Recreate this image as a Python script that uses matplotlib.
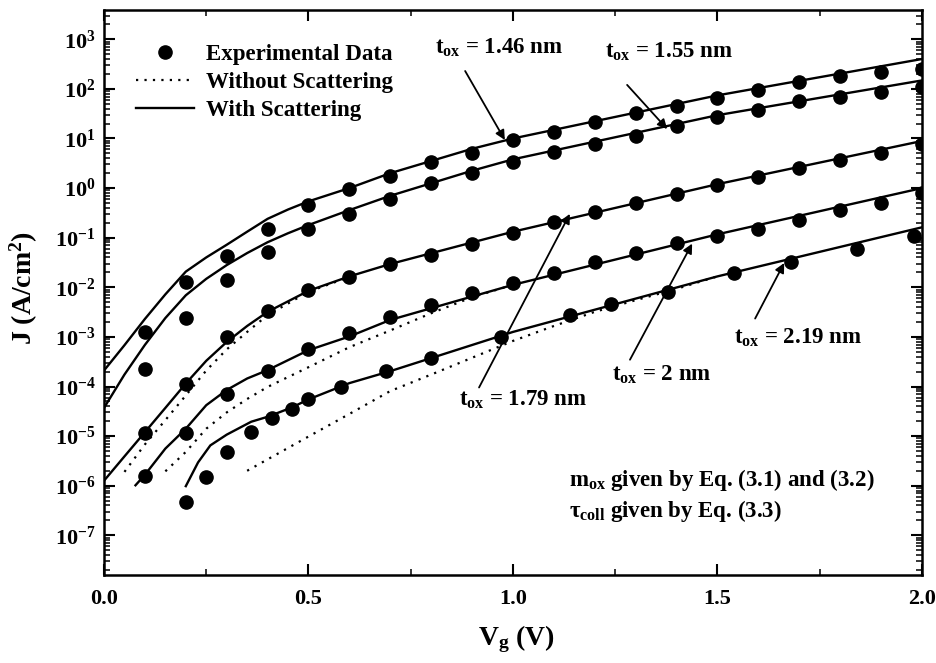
import numpy as np
import matplotlib
matplotlib.use('Agg')
import matplotlib.pyplot as plt
from matplotlib.ticker import LogLocator, MultipleLocator, FuncFormatter, NullFormatter, FormatStrFormatter
from matplotlib.lines import Line2D

plt.rcParams['font.family'] = ['Liberation Serif', 'DejaVu Serif']
plt.rcParams['font.weight'] = 'bold'
plt.rcParams['axes.labelweight'] = 'bold'
plt.rcParams['mathtext.fontset'] = 'custom'
plt.rcParams['mathtext.rm'] = 'Liberation Serif:bold'
plt.rcParams['mathtext.it'] = 'Liberation Serif:bold'
plt.rcParams['mathtext.bf'] = 'Liberation Serif:bold'

# experimental gate current density (A/cm^2) vs gate voltage (V)
vg_pts = [0.1, 0.2, 0.3, 0.4, 0.5, 0.6, 0.7, 0.8, 0.9, 1.0,
          1.1, 1.2, 1.3, 1.4, 1.5, 1.6, 1.7, 1.8, 1.9, 2.0]
j_146 = [1.26e-3, 1.26e-2, 4.2e-2, 0.153, 0.45, 0.955, 1.78, 3.3, 5.2, 9.3,
         13.5, 21, 32, 45, 64, 95, 135, 186, 219, 251]
j_155 = [2.3e-4, 2.4e-3, 1.38e-2, 5.2e-2, 0.151, 0.30, 0.60, 1.26, 1.97, 3.3,
         5.4, 7.7, 11.2, 17.6, 27, 38, 56, 70, 85, 107]
j_179 = [1.16e-5, 1.1e-4, 1.0e-3, 3.3e-3, 8.7e-3, 1.6e-2, 2.9e-2, 4.5e-2, 7.6e-2, 0.123,
         0.21, 0.33, 0.50, 0.75, 1.17, 1.66, 2.5, 3.7, 5.0, 7.8]
j_200 = [1.55e-6, 1.16e-5, 7.2e-5, 2.1e-4, 5.8e-4, 1.2e-3, 2.5e-3, 4.4e-3, 7.5e-3, 1.2e-2,
         1.9e-2, 3.2e-2, 5.0e-2, 7.8e-2, 0.107, 0.151, 0.23, 0.36, 0.51, 0.81]
vg_219 = [0.2, 0.25, 0.3, 0.36, 0.41, 0.46, 0.5, 0.58, 0.69, 0.8,
          0.97, 1.14, 1.24, 1.38, 1.54, 1.68, 1.84, 1.98]
j_219 = [4.6e-7, 1.5e-6, 4.8e-6, 1.2e-5, 2.3e-5, 3.6e-5, 5.6e-5, 1.0e-4, 2.1e-4, 3.8e-4,
         1.0e-3, 2.7e-3, 4.6e-3, 7.9e-3, 1.9e-2, 3.2e-2, 6.0e-2, 0.108]

# simulation with scattering
vs_146 = [0, 0.05, 0.1, 0.15, 0.2, 0.25, 0.3, 0.35, 0.4, 0.45, 0.5, 0.6, 0.7, 0.9, 1.0, 1.5, 2.0]
js_146 = [2.1e-4, 6.8e-4, 2.3e-3, 7.2e-3, 2.07e-2, 4.0e-2, 7.2e-2, 0.132, 0.24, 0.37, 0.54,
          1.0, 2.0, 6.2, 10.0, 74, 400]
vs_155 = [0, 0.05, 0.1, 0.15, 0.2, 0.25, 0.3, 0.35, 0.4, 0.45, 0.5, 0.6, 0.7, 0.9, 1.0, 1.5, 2.0]
js_155 = [3.7e-5, 1.74e-4, 6.9e-4, 2.4e-3, 6.9e-3, 1.48e-2, 2.8e-2, 4.9e-2, 8.1e-2, 0.123, 0.18,
          0.36, 0.70, 2.24, 3.8, 29.5, 148]
vs_179 = [0, 0.05, 0.1, 0.15, 0.2, 0.25, 0.3, 0.35, 0.4, 0.5, 0.6, 0.7, 1.0, 1.5, 2.0]
js_179 = [1.26e-6, 3.9e-6, 1.2e-5, 3.7e-5, 1.15e-4, 3.3e-4, 7.9e-4, 1.66e-3, 3.2e-3, 8.5e-3,
          1.66e-2, 2.95e-2, 0.132, 1.2, 8.9]
vs_200 = [0.077, 0.1, 0.15, 0.2, 0.25, 0.3, 0.35, 0.4, 0.5, 0.6, 0.7, 1.0, 1.5, 2.0]
js_200 = [1.02e-6, 1.66e-6, 5.6e-6, 1.41e-5, 4.2e-5, 8.5e-5, 1.45e-4, 2.14e-4, 5.4e-4, 1.02e-3,
          2.2e-3, 1.12e-2, 0.117, 1.0]
vs_219 = [0.2, 0.23, 0.26, 0.3, 0.36, 0.4, 0.46, 0.5, 0.6, 0.7, 1.0, 1.5, 2.0]
js_219 = [9.8e-7, 2.95e-6, 6.5e-6, 1.07e-5, 1.95e-5, 2.45e-5, 3.8e-5, 5.5e-5, 1.17e-4, 2.04e-4,
          1.26e-3, 1.66e-2, 0.162]

# simulation without scattering
vn_179 = [0.05, 0.1, 0.15, 0.2, 0.25, 0.3, 0.35, 0.4, 0.5, 0.6]
jn_179 = [1.9e-6, 6.8e-6, 2.1e-5, 6.6e-5, 2.1e-4, 5.6e-4, 1.26e-3, 2.75e-3, 8.1e-3, 1.62e-2]
vn_200 = [0.15, 0.2, 0.25, 0.3, 0.35, 0.4, 0.5, 0.6, 0.7, 0.8, 0.9, 1.0]
jn_200 = [1.95e-6, 4.8e-6, 1.41e-5, 3.0e-5, 5.6e-5, 9.8e-5, 2.45e-4, 6.2e-4, 1.35e-3, 3.0e-3, 6.3e-3, 1.12e-2]
vn_219 = [0.35, 0.4, 0.5, 0.6, 0.7, 0.8, 0.9, 1.0, 1.1, 1.2, 1.3, 1.4, 1.5]
jn_219 = [2.0e-6, 3.4e-6, 9.8e-6, 2.8e-5, 8.1e-5, 1.74e-4, 3.8e-4, 8.3e-4, 1.66e-3, 3.2e-3, 5.5e-3, 9.3e-3, 1.66e-2]

dots = (0, (1, 2.8))

fig = plt.figure(figsize=(9.37, 6.63), dpi=100)
ax = fig.add_axes([104/937, 88/663, 818/937, 565/663])

for v, j in [(vn_179, jn_179), (vn_200, jn_200), (vn_219, jn_219)]:
    ax.semilogy(v, j, ls=dots, lw=1.6, color='k')
for v, j in [(vs_146, js_146), (vs_155, js_155), (vs_179, js_179),
             (vs_200, js_200), (vs_219, js_219)]:
    ax.semilogy(v, j, '-', lw=1.7, color='k')
for v, j in [(vg_pts, j_146), (vg_pts, j_155), (vg_pts, j_179),
             (vg_pts, j_200), (vg_219, j_219)]:
    ax.semilogy(v, j, 'o', ms=9.5, color='k', mec='k')

ax.set_xlim(0, 2.0)
ax.set_ylim(10**-7.80, 10**3.59)

ax.xaxis.set_major_locator(MultipleLocator(0.5))
ax.xaxis.set_minor_locator(MultipleLocator(0.25))
ax.xaxis.set_major_formatter(FormatStrFormatter('%.1f'))
ax.yaxis.set_major_locator(LogLocator(base=10, numticks=20))
ax.yaxis.set_minor_locator(LogLocator(base=10, subs=np.arange(2, 10), numticks=20))
ax.yaxis.set_minor_formatter(NullFormatter())
ax.yaxis.set_major_formatter(FuncFormatter(lambda y, pos: r'$10^{%d}$' % round(np.log10(y))))

ax.tick_params(which='both', direction='in', top=True, right=True, labelsize=16)
ax.tick_params(which='major', length=8, width=1.5)
ax.tick_params(which='minor', length=4, width=1.1)
ax.tick_params(axis='x', pad=10)
ax.tick_params(axis='y', pad=6)
for s in ax.spines.values():
    s.set_linewidth(1.8)

ax.set_xlabel(r'V$_{\rm g}$ (V)', fontsize=20)
ax.set_ylabel(r'J (A/cm$^{2}$)', fontsize=20)
ax.xaxis.set_label_coords(0.504, -0.085)
ax.yaxis.set_label_coords(-0.078, 0.508)

handles = [Line2D([], [], marker='o', ls='none', ms=9.5, color='k'),
           Line2D([], [], ls=dots, lw=1.6, color='k'),
           Line2D([], [], ls='-', lw=1.7, color='k')]
labels = ['Experimental Data', 'Without Scattering', 'With Scattering']
ax.legend(handles, labels, loc='upper left', bbox_to_anchor=(0.039, 0.94), frameon=False,
          fontsize=16.5, handlelength=2.55, handletextpad=0.5, labelspacing=0.31,
          borderaxespad=0, borderpad=0)

# thickness labels with arrows pointing at the curves
arrow = dict(arrowstyle='-|>', lw=1.3, color='k', mutation_scale=14, shrinkA=0, shrinkB=0)
notes = [
    (r't$_{\rm ox}$ = 1.46 nm', (0.81, 10**2.71), (0.883, 10**2.36), (0.98, 10**0.97)),
    (r't$_{\rm ox}$ = 1.55 nm', (1.225, 10**2.62), (1.279, 10**2.08), (1.377, 10**1.19)),
    (r't$_{\rm ox}$ = 1.79 nm', (0.868, 10**-4.39), (0.917, 10**-4.02), (1.139, 10**-0.52)),
    (r't$_{\rm ox}$ = 2 nm', (1.242, 10**-3.89), (1.286, 10**-3.46), (1.438, 10**-1.12)),
    (r't$_{\rm ox}$ = 2.19 nm', (1.54, 10**-3.14), (1.592, 10**-2.63), (1.663, 10**-1.51)),
]
for txt, pos, tail, head in notes:
    ax.text(pos[0], pos[1], txt, fontsize=16.5, ha='left', va='baseline')
    ax.annotate('', xy=head, xytext=tail, arrowprops=arrow)

ax.text(1.137, 10**-6.0, r'm$_{\rm ox}$ given by Eq. (3.1) and (3.2)', fontsize=16.5,
        ha='left', va='baseline')
ax.text(1.137, 10**-6.63, r'τ$_{\rm coll}$ given by Eq. (3.3)', fontsize=16.5,
        ha='left', va='baseline')

fig.savefig('out.png', dpi=100)
